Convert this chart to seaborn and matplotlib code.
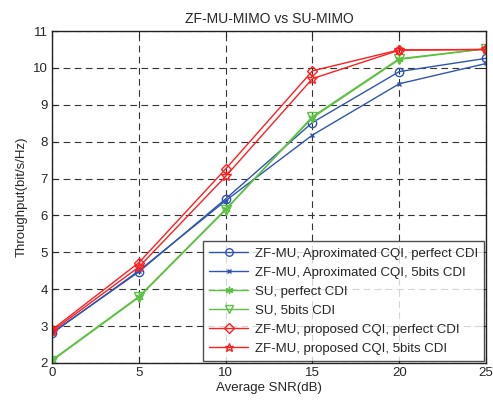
import matplotlib
matplotlib.use("Agg")
import matplotlib.pyplot as plt
import seaborn as sns
import pandas as pd

# Datos
snr = [0, 5, 10, 15, 20, 25]
mu_aprox_perfect = [2.82, 4.47, 6.45, 8.52, 9.90, 10.26]
mu_aprox_5bits = [2.80, 4.50, 6.40, 8.18, 9.57, 10.12]
su_perfect = [2.08, 3.80, 6.17, 8.65, 10.23, 10.52]
su_5bits = [2.06, 3.78, 6.15, 8.68, 10.25, 10.52]
mu_prop_perfect = [2.90, 4.72, 7.26, 9.92, 10.49, 10.50]
mu_prop_5bits = [2.86, 4.60, 7.06, 9.71, 10.48, 10.50]

labels = ['ZF-MU, Aproximated CQI, perfect CDI',
          'ZF-MU, Aproximated CQI, 5bits CDI',
          'SU, perfect CDI',
          'SU, 5bits CDI',
          'ZF-MU, proposed CQI, perfect CDI',
          'ZF-MU, proposed CQI, 5bits CDI']
series = [mu_aprox_perfect, mu_aprox_5bits, su_perfect, su_5bits,
          mu_prop_perfect, mu_prop_5bits]

BLUE, GREEN, RED = '#2f55b0', '#5cc040', '#ff1f1f'
# marcador tipo asterisco de matlab: (6, 2, 0)
styles = [(BLUE, 'o', 6), (BLUE, 'x', 3.5), (GREEN, (6, 2, 0), 6),
          (GREEN, 'v', 7), (RED, 'D', 5.5), (RED, '*', 7)]

sns.set_style('white')
plt.rcParams['font.family'] = ['Liberation Sans', 'DejaVu Sans']

fig = plt.figure(figsize=(4.93, 4.03), dpi=100)
ax = fig.add_axes([0.1055, 0.0993, 0.8805, 0.8237])

for lab, vals, (col, mk, ms) in zip(labels, series, styles):
    df = pd.DataFrame({'snr': snr, 'thr': vals})
    sns.lineplot(data=df, x='snr', y='thr', ax=ax, color=col, marker=mk,
                 markersize=ms, markerfacecolor='none', markeredgecolor=col,
                 markeredgewidth=1.0, linewidth=1.0, label=lab)

ax.set_xlim(0, 25)
ax.set_ylim(2, 11)
ax.set_xticks(snr)
ax.set_yticks(range(2, 12))
ax.grid(True, color='#333333', linestyle=(0, (6, 4)), linewidth=0.8)
for s in ax.spines.values():
    s.set_color('#222222')
    s.set_linewidth(1.0)
ax.tick_params(direction='in', length=4, labelsize=9.5, pad=3,
               top=True, right=True, bottom=True, left=True)
ax.set_xlabel('Average SNR(dB)', fontsize=9.5, labelpad=2)
ax.set_ylabel('Throughput(bit/s/Hz)', fontsize=9.5, labelpad=4)
ax.set_title('ZF-MU-MIMO vs SU-MIMO', fontsize=10, pad=6)

leg = ax.legend(loc='lower right', fontsize=9.5, frameon=True, fancybox=False,
                edgecolor='#222222', borderaxespad=0.15, handlelength=3.0,
                handletextpad=0.5, labelspacing=0.52, borderpad=0.45,
                markerscale=0.9)
leg.get_frame().set_linewidth(1.0)

plt.savefig('out.png', dpi=100)
